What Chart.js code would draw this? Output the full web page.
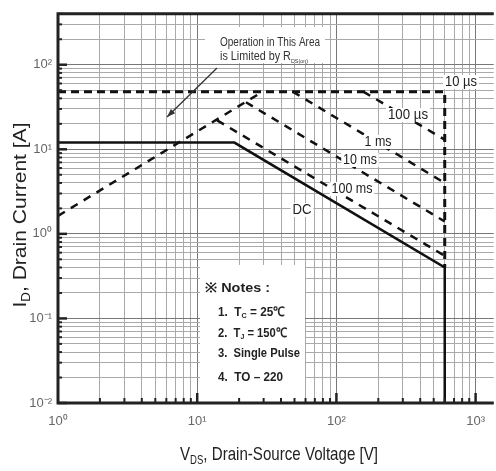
<!DOCTYPE html>
<html><head><meta charset="utf-8">
<script src="https://cdn.jsdelivr.net/npm/chart.js@4.4.1/dist/chart.umd.min.js"></script>
<style>html,body{margin:0;padding:0;background:#fff;overflow:hidden}#wrap{width:496px;height:471px}</style>
</head><body><div id="wrap"><canvas id="c" width="496" height="471" style="width:496px;height:471px"></canvas></div>
<script>
// ---- axis ticks ----
const xTickVals = [1,2,3,4,5,6,7,8,9,10,20,30,40,50,60,70,80,90,100,200,300,400,500,600,700,800,900,1000];
const yTickVals = [0.01,0.02,0.03,0.04,0.05,0.06,0.07,0.08,0.09,0.1,0.2,0.3,0.4,0.5,0.6,0.7,0.8,0.9,1,2,3,4,5,6,7,8,9,10,20,30,40,50,60,70,80,90,100,200,300,400];
const xLabelVals = [1,10,100,1000];
const xLabelText = ['10⁰','10¹','10²','10³'];
const yLabelVals = [0.01,0.1,1,10,100];
const yLabelText = ['10⁻²','10⁻¹','10⁰','10¹','10²'];

// ---- SOA curves (V_DS [V], I_D [A]) ----
const dcV    = [1, 18.5, 600, 600];
const dcI    = [12, 12, 0.4, 0.01];
const us10V  = [1, 600, 600];
const us10I  = [48, 48, 0.4];
const rdsV   = [1, 29.5];
const rdsI   = [1.63, 48];
const us100V = [156, 600];
const us100I = [48, 13];
const ms1V   = [48.5, 600];
const ms1I   = [48, 4.0];
const ms10V  = [22.4, 600];
const ms10I  = [36, 1.4];
const ms100V = [13.9, 600];
const ms100I = [22, 0.55];

const curveLabels = ['10 µs','100 µs','1 ms','10 ms','100 ms','DC'];

const pts = (xs, ys) => xs.map((x, i) => ({x, y: ys[i]}));
const isDecade = v => Math.abs(Math.log10(v) - Math.round(Math.log10(v))) < 1e-9;
const FAM = '"Liberation Sans", Arial, sans-serif';

function richText(ctx, runs, x, y, o) {
  const w8 = o.weight || 'normal';
  const base = `${w8} ${o.size}px ${FAM}`;
  const sub = `${w8} ${Math.round(o.size * (o.subScale || 0.65))}px ${FAM}`;
  let w = 0;
  runs.forEach(r => { ctx.font = r.sub ? sub : base; r.w = ctx.measureText(r.t).width; w += r.w; });
  const sx = o.width ? o.width / w : 1;
  ctx.save();
  ctx.translate(x, y);
  if (o.rot) ctx.rotate(o.rot);
  ctx.scale(sx, 1);
  let cx = o.align === 'center' ? -w / 2 : 0;
  if (o.bg) {
    ctx.fillStyle = o.bg;
    ctx.fillRect(cx - 2, -o.size * 0.5, w + 4, o.size);
  }
  ctx.fillStyle = o.color || '#222';
  ctx.textBaseline = 'middle';
  ctx.textAlign = 'left';
  runs.forEach(r => {
    ctx.font = r.sub ? sub : base;
    ctx.fillText(r.t, cx, r.sub ? o.size * (o.subDy || 0.3) : 0);
    cx += r.w;
  });
  ctx.restore();
}

const decor = {
  id: 'decor',
  beforeDatasetsDraw(chart) {
    const ctx = chart.ctx;
    ctx.save();
    ctx.fillStyle = '#fff';
    ctx.fillRect(205, 27, 120, 36);   // R_DS(on) note box
    ctx.fillRect(200, 265, 105, 137); // Notes box
    ctx.restore();
  },
  afterDraw(chart) {
    const ctx = chart.ctx;
    const a = chart.chartArea;
    const xs = chart.scales.x, ys = chart.scales.y;
    ctx.save();
    // inward ticks
    ctx.strokeStyle = '#222';
    xTickVals.forEach(v => {
      if (v === 1) return;
      const p = xs.getPixelForValue(v);
      const len = isDecade(v) ? 10 : 5;
      ctx.lineWidth = isDecade(v) ? 2.5 : 2;
      ctx.beginPath(); ctx.moveTo(p, a.bottom); ctx.lineTo(p, a.bottom - len); ctx.stroke();
    });
    yTickVals.forEach(v => {
      const p = ys.getPixelForValue(v);
      const len = isDecade(v) ? 9 : 4;
      ctx.lineWidth = isDecade(v) ? 2.5 : 2;
      ctx.beginPath(); ctx.moveTo(a.left, p); ctx.lineTo(a.left + len, p); ctx.stroke();
    });
    // frame
    ctx.lineWidth = 3; ctx.strokeStyle = '#222';
    ctx.beginPath();
    ctx.moveTo(a.right, a.top); ctx.lineTo(a.left, a.top); ctx.lineTo(a.left, a.bottom); ctx.lineTo(a.right, a.bottom);
    ctx.stroke();

    // axis titles
    richText(ctx, [{t:'V'},{t:'DS',sub:true},{t:', Drain-Source Voltage [V]'}], 279, 455, {size:19, width:198, align:'center', color:'#222'});
    richText(ctx, [{t:'I'},{t:'D',sub:true},{t:', Drain Current [A]'}], 21, 215, {size:19, width:185, align:'center', rot:-Math.PI/2, color:'#222'});

    // R_DS(on) annotation
    richText(ctx, [{t:'Operation in This Area'}], 270, 43, {size:12, width:100, align:'center', color:'#333'});
    richText(ctx, [{t:'is Limited by R'},{t:'DS(on)',sub:true}], 220, 57, {size:12, width:88, subScale:0.5, subDy:0.35, color:'#333'});
    // arrow
    ctx.strokeStyle = '#333'; ctx.fillStyle = '#333'; ctx.lineWidth = 1.3;
    const x0 = 217, y0 = 68, x1 = 167, y1 = 117;
    ctx.beginPath(); ctx.moveTo(x0, y0); ctx.lineTo(x1, y1); ctx.stroke();
    const ang = Math.atan2(y1 - y0, x1 - x0);
    ctx.beginPath();
    ctx.moveTo(x1, y1);
    ctx.lineTo(x1 - 9 * Math.cos(ang - 0.35), y1 - 9 * Math.sin(ang - 0.35));
    ctx.lineTo(x1 - 9 * Math.cos(ang + 0.35), y1 - 9 * Math.sin(ang + 0.35));
    ctx.closePath(); ctx.fill();

    // curve labels
    const lp = [[461,82,32],[408,115,40],[378,142,27],[360,160,34],[352,189,41],[302,210,19]];
    curveLabels.forEach((t, i) => {
      richText(ctx, [{t}], lp[i][0], lp[i][1], {size:14, width:lp[i][2], align:'center', color:'#222', bg:'#fff'});
    });

    // notes
    richText(ctx, [{t:'※ Notes :'}], 205, 288, {size:13, weight:'bold', width:65, color:'#222'});
    richText(ctx, [{t:'1.  T'},{t:'C',sub:true},{t:' = 25℃'}], 218, 312, {size:13, weight:'bold', width:67, color:'#222'});
    richText(ctx, [{t:'2.  T'},{t:'J',sub:true},{t:' = 150℃'}], 218, 333, {size:13, weight:'bold', width:69, color:'#222'});
    richText(ctx, [{t:'3.  Single Pulse'}], 218, 353, {size:13, weight:'bold', width:82, color:'#222'});
    richText(ctx, [{t:'4.  TO – 220'}], 218, 377, {size:13, weight:'bold', width:65, color:'#222'});
    ctx.restore();
  }
};

const dashed = (data, w, dash) => ({data, showLine:true, borderColor:'#111', borderWidth:w, borderDash:dash, pointRadius:0, fill:false, tension:0});

new Chart(document.getElementById('c'), {
  type: 'scatter',
  data: { datasets: [
    {data: pts(dcV, dcI), showLine:true, borderColor:'#111', borderWidth:2.5, pointRadius:0, fill:false},
    dashed(pts(us10V, us10I), 3, [8,5]),
    dashed(pts(rdsV, rdsI), 2.5, [8,7]),
    dashed(pts(us100V, us100I), 2.5, [8,7]),
    dashed(pts(ms1V, ms1I), 2.5, [8,7]),
    dashed(pts(ms10V, ms10I), 2.5, [8,7]),
    dashed(pts(ms100V, ms100I), 2.5, [8,7])
  ]},
  options: {
    responsive: false, animation: false, devicePixelRatio: 1,
    layout: { padding: { top: 10, right: 0, left: 0, bottom: 0 } },
    plugins: { legend: { display: false }, tooltip: { enabled: false } },
    scales: {
      x: {
        type: 'logarithmic', min: 1, max: 1350,
        afterBuildTicks: s => { s.ticks = xTickVals.map(v => ({value: v})); },
        afterFit: s => { s.height = 68; },
        border: { display: false },
        grid: { drawTicks: false, lineWidth: 1, color: c => isDecade(c.tick.value) ? '#777' : '#aaa' },
        ticks: { autoSkip: false, maxRotation: 0, padding: 11, color: '#666', font: { size: 13, family: FAM },
          callback: v => { const i = xLabelVals.indexOf(v); return i >= 0 ? xLabelText[i] : ''; } }
      },
      y: {
        type: 'logarithmic', min: 0.01, max: 400,
        afterBuildTicks: s => { s.ticks = yTickVals.map(v => ({value: v})); },
        afterFit: s => { s.width = 58; },
        border: { display: false },
        grid: { drawTicks: false, lineWidth: 1, color: c => isDecade(c.tick.value) ? '#777' : '#aaa' },
        ticks: { autoSkip: false, padding: 6, color: '#666', font: { size: 13, family: FAM },
          callback: v => { const i = yLabelVals.indexOf(v); return i >= 0 ? yLabelText[i] : ''; } }
      }
    }
  },
  plugins: [decor]
});
</script></body></html>
